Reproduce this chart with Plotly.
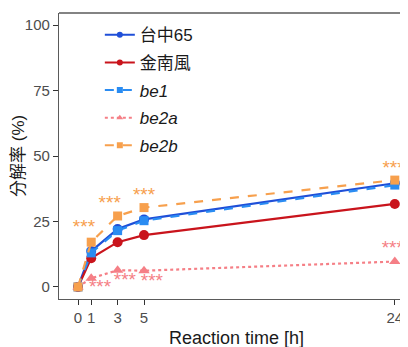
import plotly.graph_objects as go

time_h = [0, 1, 3, 5, 24]
series_names = ["台中65", "金南風", "<i>be1</i>", "<i>be2a</i>", "<i>be2b</i>"]
taichung65 = [0, 13.7, 22.1, 25.8, 39.6]
kinmaze = [0, 11.0, 17.1, 19.8, 31.7]
be1 = [0, 13.0, 21.5, 25.3, 38.9]
be2a = [0, 3.3, 6.4, 6.2, 9.7]
be2b = [0, 17.1, 27.1, 30.3, 40.8]

sig_be2b_x = [0.45, 2.4, 5.0, 23.9]
sig_be2b_y = [22.5, 31.6, 34.7, 45.0]
sig_be2a_x = [1.67, 3.55, 5.6, 23.85]
sig_be2a_y = [-0.5, 2.0, 1.9, 14.4]
sig_label = "***"

y_ticks = [0, 25, 50, 75, 100]

colors = ["#1f4fd8", "#c9141c", "#2a8cf2", "#f57f86", "#f7a04d"]
dashes = ["solid", "solid", "dash", "dot", "dash"]
symbols = ["circle", "circle", "square", "triangle-up", "square"]
msizes = [10, 10, 9, 10, 9]
values = [taichung65, kinmaze, be1, be2a, be2b]

FONT = "Liberation Sans, Arial, Noto Sans CJK TC, sans-serif"

fig = go.Figure()
for name, vals, c, d, s, ms in zip(series_names, values, colors, dashes, symbols, msizes):
    fig.add_trace(go.Scatter(
        x=time_h, y=vals, mode="lines+markers", name=name, showlegend=False,
        line=dict(color=c, width=2.2, dash=d),
        marker=dict(color=c, symbol=s, size=ms), cliponaxis=False))

for name, c, d, s in zip(series_names, colors, dashes, symbols):
    fig.add_trace(go.Scatter(
        x=[None], y=[None], mode="lines+markers", name=name, legendgroup=name,
        line=dict(color=c, width=2, dash=d),
        marker=dict(color=c, symbol=s, size=6)))

fig.add_trace(go.Scatter(x=sig_be2b_x, y=sig_be2b_y, mode="text",
                         text=[sig_label] * len(sig_be2b_x), showlegend=False,
                         textfont=dict(color="#f7a04d", size=19, family=FONT),
                         cliponaxis=False))
fig.add_trace(go.Scatter(x=sig_be2a_x, y=sig_be2a_y, mode="text",
                         text=[sig_label] * len(sig_be2a_x), showlegend=False,
                         textfont=dict(color="#f57f86", size=19, family=FONT),
                         cliponaxis=False))

fig.add_shape(type="line", xref="paper", yref="paper", x0=0, x1=1.05, y0=1, y1=1,
              line=dict(color="#5a5a5a", width=1.3))

fig.add_annotation(text="Reaction time [h]", xref="paper", yref="paper", x=0.51, y=-0.136,
                   xanchor="center", yanchor="middle", showarrow=False,
                   font=dict(size=18, color="#1a1a1a", family=FONT))
fig.add_annotation(text="分解率 (%)", xref="paper", yref="paper", x=-0.1175, y=0.5,
                   xanchor="center", yanchor="middle", showarrow=False, textangle=-90,
                   font=dict(size=17, color="#1a1a1a", family=FONT))

fig.update_layout(
    width=400, height=339,
    margin=dict(l=51, r=0, t=5, b=48, autoexpand=False),
    paper_bgcolor="white", plot_bgcolor="white",
    font=dict(family=FONT, color="#1a1a1a"),
    showlegend=True,
    legend=dict(x=0.117, y=0.985, xanchor="left", yanchor="top",
                font=dict(size=17, color="#1a1a1a", family=FONT),
                bgcolor="rgba(0,0,0,0)", tracegroupgap=2.5, itemclick=False),
    xaxis=dict(range=[-1.44, 25.0], tickvals=time_h, ticktext=[str(t) for t in time_h],
               automargin=False,
               showgrid=False, zeroline=False, showline=True, linecolor="#5a5a5a", linewidth=1.3,
               ticks="outside", ticklen=5, tickwidth=1.3, tickcolor="#333333",
               tickfont=dict(size=15, color="#4d4d4d", family=FONT)),
    yaxis=dict(range=[-4.6, 104.6], tickvals=y_ticks, automargin=False,
               showgrid=False, zeroline=False, showline=True, linecolor="#5a5a5a", linewidth=1.3,
               ticks="outside", ticklen=5, tickwidth=1.3, tickcolor="#333333",
               tickfont=dict(size=15, color="#4d4d4d", family=FONT)),
)

fig.write_html("out.html")
